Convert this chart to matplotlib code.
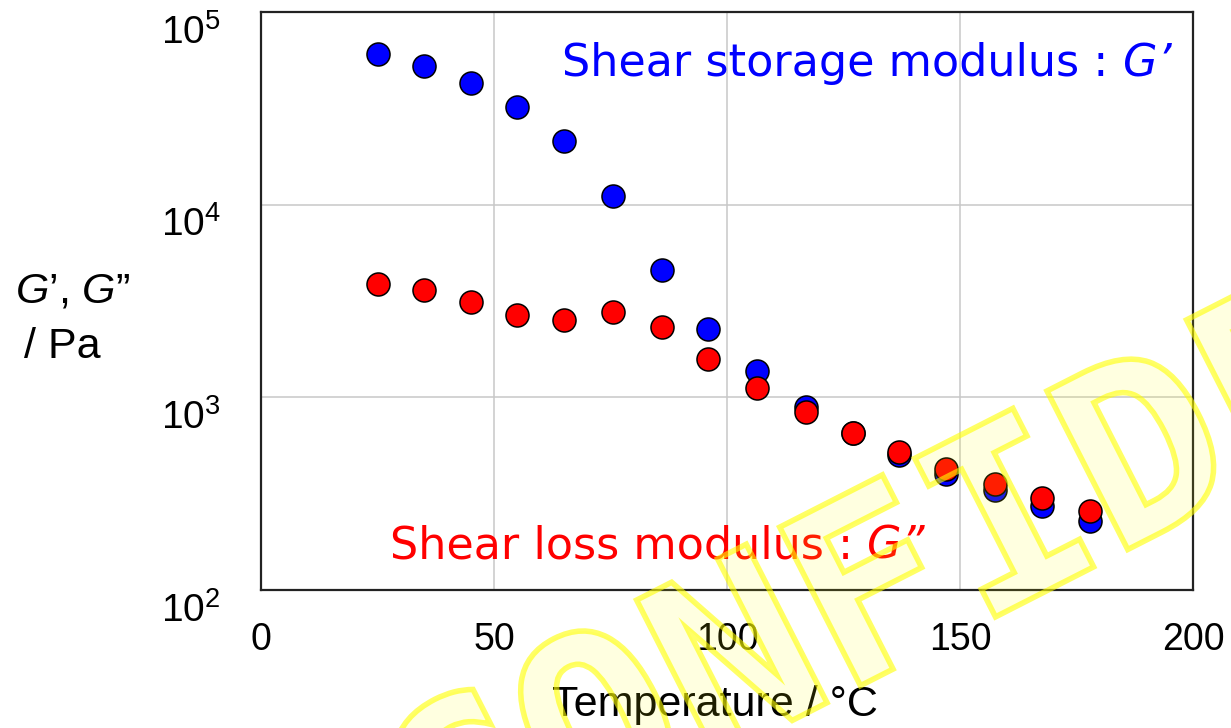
import os
import matplotlib
matplotlib.use('Agg')
import matplotlib.pyplot as plt
from matplotlib.textpath import TextPath
from matplotlib.font_manager import FontProperties, findfont
from matplotlib.patches import PathPatch
from matplotlib.transforms import Affine2D, IdentityTransform, ScaledTranslation

plt.rcParams['font.family'] = ['Liberation Sans', 'DejaVu Sans']
plt.rcParams['mathtext.fontset'] = 'custom'
plt.rcParams['mathtext.rm'] = 'Liberation Sans'
plt.rcParams['mathtext.it'] = 'Liberation Sans:italic'

# ---- data ----
temperature = [25, 35, 45, 55, 65, 75.5, 86, 96, 106.5, 117, 127, 137, 147, 157.5, 167.5, 178]
storage_modulus = [60500, 52400, 42800, 32100, 21400, 11100, 4580, 2260, 1370, 891, 653, 502, 400, 330, 273, 228]
loss_modulus = [3875, 3610, 3125, 2675, 2520, 2773, 2318, 1582, 1118, 839, 650, 520, 425, 355, 300, 257]
x_ticks = [0, 50, 100, 150, 200]
x_tick_labels = ['0', '50', '100', '150', '200']
y_ticks = [1e2, 1e3, 1e4, 1e5]
y_tick_labels = [r'$\mathregular{10^{2}}$', r'$\mathregular{10^{3}}$',
                 r'$\mathregular{10^{4}}$', r'$\mathregular{10^{5}}$']
x_label = 'Temperature / °C'
storage_label = 'Shear storage modulus : '
loss_label = 'Shear loss modulus : '
watermark = 'CONFIDENTIAL'

W, H = 1231, 728
fig = plt.figure(figsize=(W / 100, H / 100), dpi=100)
ax = fig.add_axes([261 / W, (H - 590) / H, (1193 - 261) / W, (590 - 12) / H])

ax.set_xscale('linear')
ax.set_yscale('log')
ax.set_xlim(0, 200)
ax.set_ylim(1e2, 1e5)

ax.scatter(temperature, storage_modulus, s=275, c='#0000ff', edgecolors='black',
           linewidths=1.1, zorder=3)
ax.scatter(temperature, loss_modulus, s=275, c='#ff0000', edgecolors='black',
           linewidths=1.1, zorder=4)

ax.set_xticks(x_ticks)
ax.set_xticklabels(x_tick_labels, fontsize=27)
ax.set_yticks(y_ticks)
ax.set_yticklabels(y_tick_labels, fontsize=28)
ax.yaxis.set_minor_locator(matplotlib.ticker.NullLocator())
ax.tick_params(axis='both', length=0)
ax.tick_params(axis='x', pad=23)
ax.tick_params(axis='y', pad=29)
for lbl in ax.get_yticklabels():
    lbl.set_transform(lbl.get_transform() + ScaledTranslation(0, -12 / 72, fig.dpi_scale_trans))

ax.grid(True, color='#c8c8c8', linewidth=1.1)
ax.set_axisbelow(True)
for sp in ax.spines.values():
    sp.set_color('#222222')
    sp.set_linewidth(1.6)

fig.text(715 / W, (H - 705) / H, x_label, fontsize=31, ha='center', va='center')
fig.text(15 / W, (H - 303) / H, r'$G$’, $G$”', fontsize=31, ha='left', va='baseline')
fig.text(24 / W, (H - 358) / H, '/ Pa', fontsize=31, ha='left', va='baseline')

t1 = ax.text(64.6, 46500, storage_label, color='#0000ff', fontsize=32,
             family='DejaVu Sans', ha='left', va='baseline')
ax.annotate('G’', xy=(1, 0), xycoords=t1, color='#0000ff', fontsize=32,
            family='DejaVu Sans', style='italic', ha='left', va='bottom')
t2 = ax.text(27.7, 146.5, loss_label, color='#ff0000', fontsize=32,
             family='DejaVu Sans', ha='left', va='baseline')
ax.annotate('G”', xy=(1, 0), xycoords=t2, color='#ff0000', fontsize=32,
            family='DejaVu Sans', style='italic', ha='left', va='bottom')

# watermark (outlined, translucent)
wm_prop = FontProperties(family='DejaVu Sans Mono', weight='bold', style='normal')
try:
    mono_path = findfont(wm_prop)
    cand = os.path.join(os.path.dirname(mono_path), 'DejaVuSansMono-Bold.ttf')
    if os.path.exists(cand):
        wm_prop = FontProperties(fname=cand)
except Exception:
    pass
tp = TextPath((0, 0), watermark, size=244, prop=wm_prop)
trans = Affine2D().scale(1.04, 1.0).rotate_deg(27).translate(432, H - 904)
path = trans.transform_path(tp)
patch = PathPatch(path, facecolor=(1, 1, 0, 0.12), edgecolor=(1, 1, 0, 0.6),
                  linewidth=4, transform=IdentityTransform(), zorder=10)
fig.add_artist(patch)

fig.savefig('out.png', dpi=100)
